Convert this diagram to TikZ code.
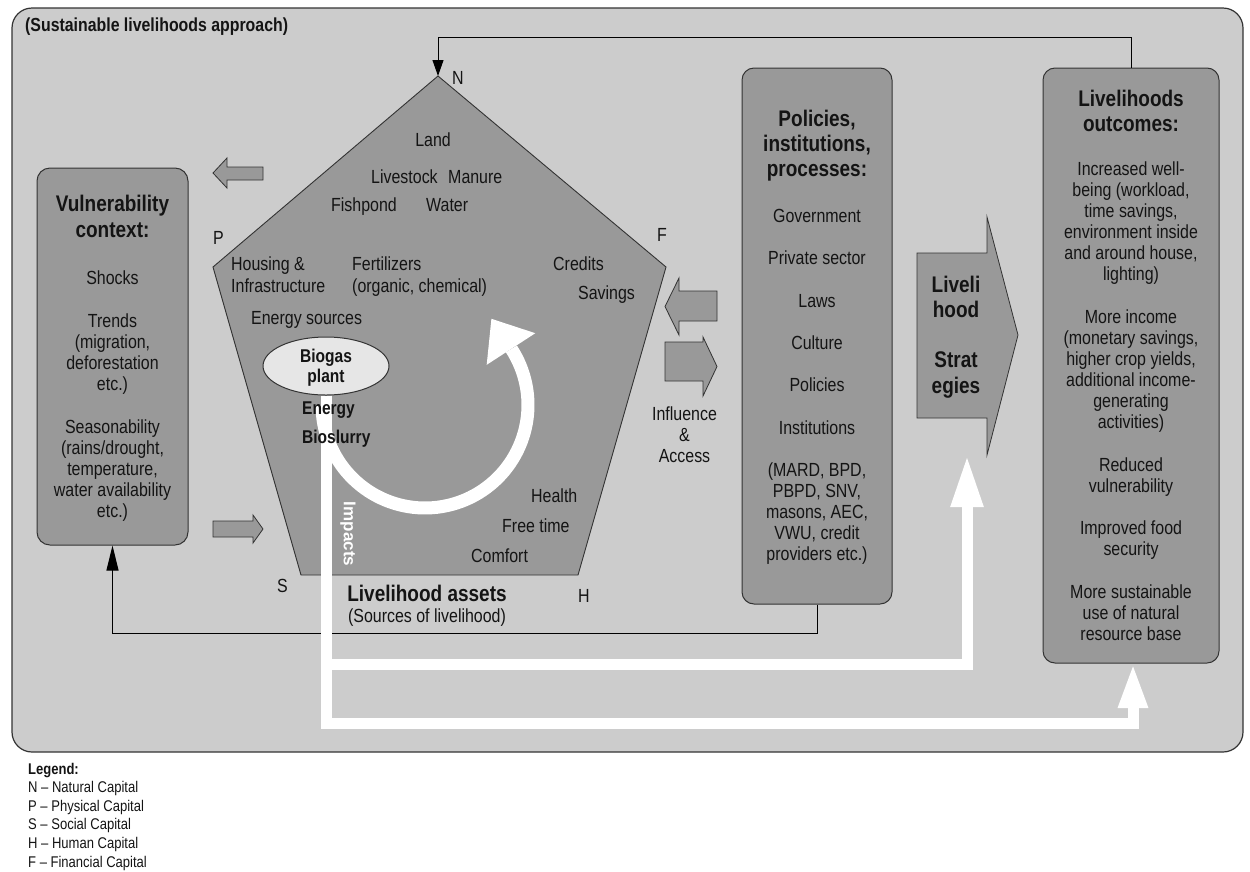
\documentclass[tikz,border=0pt]{standalone}
\usepackage{fontspec}
\setmainfont{Liberation Sans}[FakeStretch=0.84]
\newfontfamily\impfont{Liberation Sans}
\usetikzlibrary{arrows.meta,shapes.geometric,calc}
\definecolor{outerbg}{HTML}{CCCCCC}
\definecolor{midgray}{HTML}{999999}
\definecolor{bdr}{HTML}{333333}
\definecolor{ellfill}{HTML}{E6E6E6}
\definecolor{txt}{HTML}{141414}
\begin{document}
\begin{tikzpicture}[x=1pt,y=-1pt,
  box/.style={draw=bdr, fill=midgray, rounded corners=13pt, line width=1pt, inner sep=0pt},
  body/.style={font=\fontsize{19}{21.15}\selectfont, align=center, inner sep=0pt, anchor=base, text=txt},
  ttl/.style={font=\fontsize{22.6}{25.2}\selectfont\bfseries, align=center, inner sep=0pt, anchor=base, text=txt},
  ptxt/.style={font=\fontsize{19}{22}\selectfont, align=left, inner sep=0pt, anchor=base west, text=txt},
  pbold/.style={font=\fontsize{18.5}{20}\selectfont\bfseries, inner sep=0pt, text=txt},
  lbl/.style={font=\fontsize{19}{21}\selectfont, inner sep=0pt, anchor=base west, text=txt},
  blk/.style={draw=bdr, fill=midgray, line width=0.8pt},
  wline/.style={draw=white, line width=11pt},
  conn/.style={draw=black, line width=1pt},
]
\useasboundingbox (0,0) rectangle (1250,871);
% outer frame
\draw[draw=bdr, fill=outerbg, line width=1.2pt, rounded corners=20pt] (12,8) rectangle (1243,752);
\node[anchor=base west, inner sep=0pt, font=\fontsize{18.9}{20}\selectfont\bfseries, text=txt] (title) at (25,31.7) {(Sustainable livelihoods approach)};

% boxes
\node[box, minimum width=151pt, minimum height=377pt] (vul) at (112.5,356.5) {};
\node[box, minimum width=150pt, minimum height=536pt, rounded corners=12pt] (pol) at (817,336) {};
\node[box, minimum width=176pt, minimum height=595pt, rounded corners=12pt] (out) at (1131,365.5) {};

% black connectors
\coordinate (N) at (438,76);
\coordinate (P) at (213,267);
\coordinate (S) at (301,575);
\coordinate (H) at (578,575);
\coordinate (F) at (666,267);
\draw[conn, -{Triangle[width=11pt,length=16pt]}] (out.north) -- ++(0,-30.5) -| (N);
\draw[conn, -{Triangle[width=12pt,length=25pt]}] (pol.south) -- ++(0,28.5) -| (vul.south);

% pentagon
\draw[draw=bdr, fill=midgray, line width=0.9pt] (N) -- (P) -- (S) -- (H) -- (F) -- cycle;

% block arrows
\draw[blk] (263,167) -- (227,167) -- (227,158) -- (213,173) -- (227,188) -- (227,180) -- (263,180) -- cycle;
\draw[blk] (213,521) -- (253,521) -- (253,515) -- (263,529) -- (253,543) -- (253,537) -- (213,537) -- cycle;
\draw[blk] (717,291) -- (679,291) -- (679,278) -- (665,306.5) -- (679,335) -- (679,321) -- (717,321) -- cycle;
\draw[blk] (665,342) -- (703,342) -- (703,337) -- (717,366.5) -- (703,396) -- (703,381) -- (665,381) -- cycle;

% strategies arrow
\draw[blk] (917,253) -- (987,253) -- (987,217) -- (1018,335) -- (987,455) -- (987,418) -- (917,418) -- cycle;
\node[ttl] (strat) at (956,393) {Liveli\\hood\\[25.2pt]Strat\\egies};
\coordinate (stip) at (967,455);

% biogas ellipse
\node[ellipse, draw=bdr, fill=ellfill, minimum width=126pt, minimum height=58pt, inner sep=0pt, line width=1pt] (bio) at (326,366) {};

% white impact paths
\coordinate (s1) at (967,664);
\coordinate (o1) at (1133,723);
\coordinate (oend) at (1133,663);
\draw[wline, -{Triangle[width=30pt,length=52pt]}] (bio.south) |- (s1) -- (stip);
\draw[wline, -{Triangle[width=27pt,length=45pt]}] (bio.south) |- (o1) -- (oend);

% circular arrow
\draw[white, line width=13pt] plot[domain=180:-33, samples=80, variable=\t] ({425+103*cos(\t)},{405+103*sin(\t)});
\fill[white] (491.4,318.8) -- (535.3,333.2) -- (486.7,364.8) -- cycle;

\node[rotate=-90, inner sep=0pt, text=white, font={\impfont\fontsize{17}{17}\selectfont\bfseries}] (imp) at (348,534) {Impacts};

% pentagon texts
\node[lbl] (lN) at (452,84) {N};
\node[lbl] (lP) at (213,244) {P};
\node[lbl] (lF) at (657,241) {F};
\node[lbl] (lS) at (277,592) {S};
\node[lbl] (lH) at (578,602) {H};

\node[ptxt, anchor=base] (land) at (433,146) {Land};
\node[ptxt] (live) at (371,183) {Livestock};
\node[ptxt] (man) at (448,183) {Manure};
\node[ptxt] (fish) at (331,211) {Fishpond};
\node[ptxt] (wat) at (426,211) {Water};
\node[ptxt] (hous) at (231,292) {Housing \&\\Infrastructure};
\node[ptxt] (fert) at (352,292) {Fertilizers\\(organic, chemical)};
\node[ptxt] (cred) at (553,270) {Credits};
\node[ptxt] (sav) at (578,299) {Savings};
\node[ptxt] (ens) at (251,324) {Energy sources};
\node[pbold, align=center, anchor=base] (biot) at (326,382) {Biogas\\plant};
\node[pbold, anchor=base west] (ener) at (302,414) {Energy};
\node[pbold, anchor=base west] (slur) at (302,443) {Bioslurry};
\node[ptxt] (heal) at (531,502) {Health};
\node[ptxt] (free) at (502,532) {Free time};
\node[ptxt] (comf) at (471,562) {Comfort};
\node[ttl] (la) at (427,601) {Livelihood assets};
\node[body] (src) at (427,622) {(Sources of livelihood)};

\node[body] (infl) at (684.5,462.3) {Influence\\\&\\Access};

% vulnerability texts
\node[ttl] (vult) at (112.5,237) {Vulnerability\\context:};
\node[body] (vulb) at (112.5,517.6) {Shocks\\[21.15pt]Trends\\(migration,\\deforestation\\etc.)\\[21.15pt]Seasonability\\(rains/drought,\\temperature,\\water availability\\etc.)};

% policies texts
\node[ttl] (polt) at (817,176.4) {Policies,\\institutions,\\processes:};
\node[body] (polb) at (817,560.9) {Government\\[21.15pt]Private sector\\[21.15pt]Laws\\[21.15pt]Culture\\[21.15pt]Policies\\[21.15pt]Institutions\\[21.15pt](MARD, BPD,\\PBPD, SNV,\\masons, AEC,\\VWU, credit\\providers etc.)};

% outcomes texts
\node[ttl] (outt) at (1131,131.5) {Livelihoods\\outcomes:};
\node[body] (outb) at (1131,640.3) {Increased well-\\being (workload,\\time savings,\\environment inside\\and around house,\\lighting)\\[21.15pt]More income\\(monetary savings,\\higher crop yields,\\additional income-\\generating\\activities)\\[21.15pt]Reduced\\vulnerability\\[21.15pt]Improved food\\security\\[21.15pt]More sustainable\\use of natural\\resource base};

% legend
\node[anchor=base west, align=left, inner sep=0pt, font=\fontsize{15.5}{18.6}\selectfont, text=txt] (leg) at (28,867) {\textbf{Legend:}\\N – Natural Capital\\P – Physical Capital\\S – Social Capital\\H – Human Capital\\F – Financial Capital};
\end{tikzpicture}
\end{document}
